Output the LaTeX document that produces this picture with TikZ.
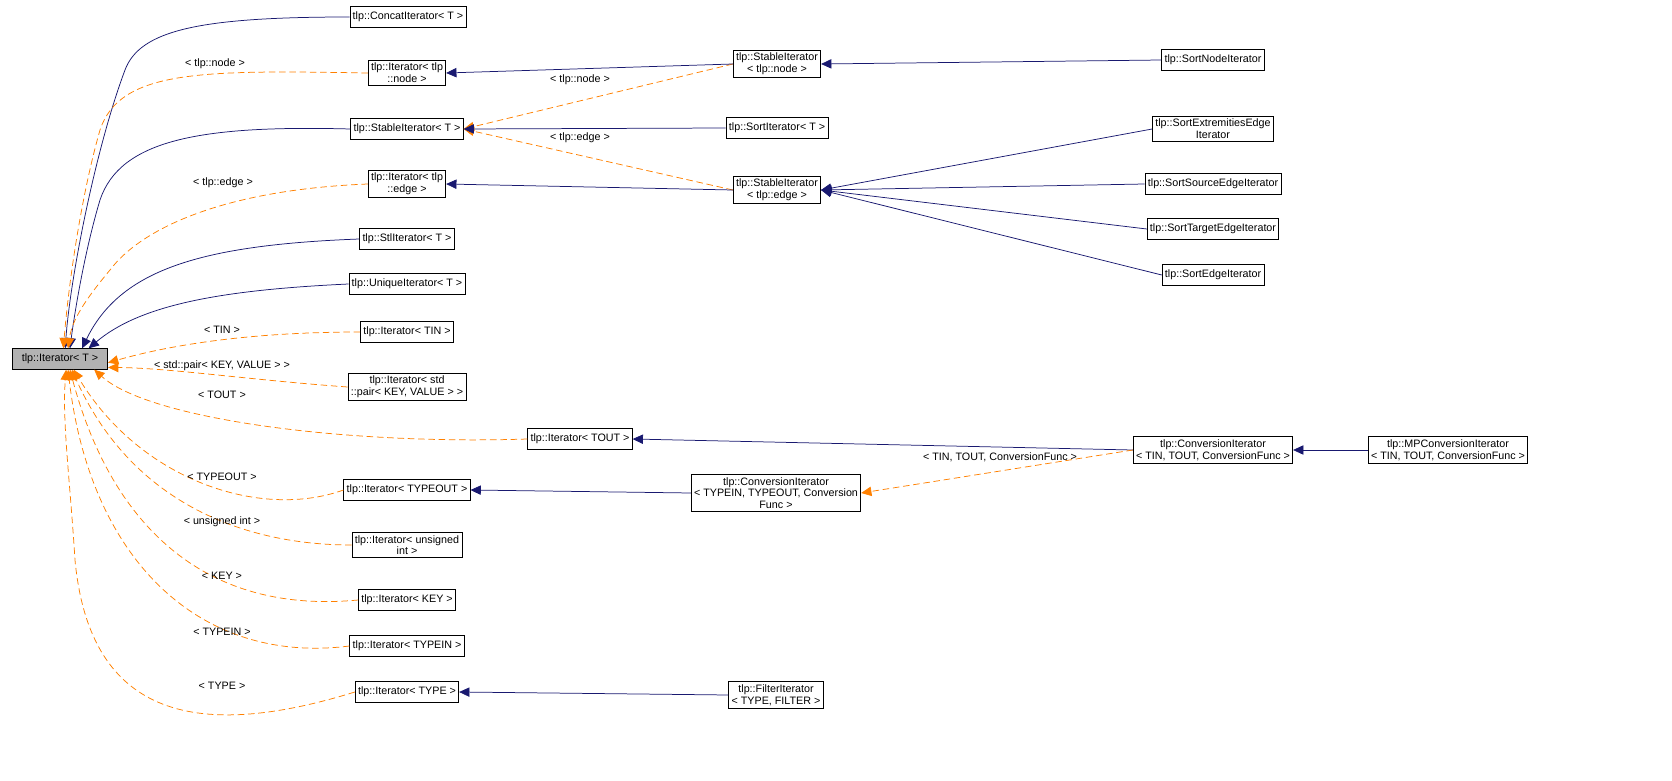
\documentclass[tikz,border=0pt]{standalone}
\usepackage{fontspec}
\setmainfont{Liberation Sans}
\usetikzlibrary{arrows.meta}
\begin{document}
\begin{tikzpicture}[x=1.07pt,y=-1.07pt,
  every node/.style={font=\fontsize{11.5}{12.5}\selectfont},
  box/.style={draw,thick,fill=white,align=center,inner sep=3pt,minimum height=22pt},
  inh/.style={draw={rgb,255:red,25;green,25;blue,112},thick,-{Triangle[length=11pt,width=10pt]}},
  tpl/.style={draw=orange,thick,dashed,dash pattern=on 7pt off 4pt,-{Triangle[length=11pt,width=10pt,fill=orange]}},
  lab/.style={inner sep=1pt}]
\useasboundingbox (0,0) rectangle (1672,781);
\node[box,fill=black!30,minimum width=102pt] (base) at (60,359) {tlp::Iterator< T >};
\node[box] (concat) at (408,17) {tlp::ConcatIterator< T >};
\node[box] (itnode) at (407,73) {tlp::Iterator< tlp\\::node >};
\node[box] (stT) at (407,129) {tlp::StableIterator< T >};
\node[box] (itedge) at (407,184) {tlp::Iterator< tlp\\::edge >};
\node[box] (stl) at (407,239) {tlp::StlIterator< T >};
\node[box] (uniq) at (407,284) {tlp::UniqueIterator< T >};
\node[box] (tin) at (407,332) {tlp::Iterator< TIN >};
\node[box] (pair) at (407,387) {tlp::Iterator< std\\::pair< KEY, VALUE > >};
\node[box] (tout) at (580,439) {tlp::Iterator< TOUT >};
\node[box] (typeout) at (407,490) {tlp::Iterator< TYPEOUT >};
\node[box] (uint) at (407,545) {tlp::Iterator< unsigned\\int >};
\node[box] (key) at (407,600) {tlp::Iterator< KEY >};
\node[box] (typein) at (407,646) {tlp::Iterator< TYPEIN >};
\node[box] (type) at (407,692) {tlp::Iterator< TYPE >};
\node[box] (stnode) at (777,64) {tlp::StableIterator\\< tlp::node >};
\node[box] (sortT) at (777,128) {tlp::SortIterator< T >};
\node[box] (stedge) at (777,190) {tlp::StableIterator\\< tlp::edge >};
\node[box] (sortnode) at (1213,60) {tlp::SortNodeIterator};
\node[box] (sortext) at (1213,129) {tlp::SortExtremitiesEdge\\Iterator};
\node[box] (sortsrc) at (1213,184) {tlp::SortSourceEdgeIterator};
\node[box] (sorttgt) at (1213,229) {tlp::SortTargetEdgeIterator};
\node[box] (sortedge) at (1213,275) {tlp::SortEdgeIterator};
\node[box] (conv) at (1213,450) {tlp::ConversionIterator\\< TIN, TOUT, ConversionFunc >};
\node[box] (mpconv) at (1448,450) {tlp::MPConversionIterator\\< TIN, TOUT, ConversionFunc >};
\node[box] (conv2) at (776,493) {tlp::ConversionIterator\\< TYPEIN, TYPEOUT, Conversion\\Func >};
\node[box] (filter) at (776,695) {tlp::FilterIterator\\< TYPE, FILTER >};

% navy to base
\draw[inh] (concat.west) .. controls (200,17) and (140,30) .. (125,70) .. controls (95,150) and (70,280) .. ([xshift=57pt]base.north west);
\draw[inh] (stT.west) .. controls (200,125) and (120,140) .. (100,200) .. controls (85,250) and (75,310) .. ([xshift=62pt]base.north west);
\draw[inh] (stl.west) .. controls (200,245) and (120,270) .. ([xshift=75pt]base.north west);
\draw[inh] (uniq.west) .. controls (220,290) and (140,305) .. ([xshift=82pt]base.north west);
% orange to base top
\draw[tpl] (itnode.west) .. controls (200,70) and (120,70) .. (100,130) .. controls (80,200) and (68,290) .. ([xshift=55pt]base.north west);
\draw[tpl] (itedge.west) .. controls (220,190) and (140,230) .. (110,270) .. controls (85,300) and (72,320) .. ([xshift=60pt]base.north west);
\draw[tpl] (tin.west) .. controls (250,332) and (170,345) .. ([yshift=-4pt]base.east);
\draw[tpl] (pair.west) .. controls (250,380) and (170,368) .. ([yshift=-9pt]base.east);
\draw[tpl] (tout.west) .. controls (350,445) and (150,420) .. ([xshift=88pt]base.south west);
% orange to base bottom
\draw[tpl] (typeout.west) .. controls (260,520) and (140,480) .. ([xshift=66pt]base.south west);
\draw[tpl] (uint.west) .. controls (240,545) and (130,500) .. ([xshift=64pt]base.south west);
\draw[tpl] (key.west) .. controls (200,615) and (110,520) .. ([xshift=62pt]base.south west);
\draw[tpl] (typein.west) .. controls (200,665) and (90,560) .. ([xshift=60pt]base.south west);
\draw[tpl] (type.west) .. controls (200,740) and (90,720) .. (75,560) .. controls (70,480) and (62,420) .. ([xshift=58pt]base.south west);
% others
\draw[tpl] (stnode.west) -- (stT.east);
\draw[tpl] (stedge.west) -- (stT.east);
\draw[inh] (stnode.west) -- (itnode.east);
\draw[inh] (sortT.west) -- (stT.east);
\draw[inh] (stedge.west) -- (itedge.east);
\draw[inh] (sortnode.west) -- (stnode.east);
\draw[inh] (sortext.west) -- (stedge.east);
\draw[inh] (sortsrc.west) -- (stedge.east);
\draw[inh] (sorttgt.west) -- (stedge.east);
\draw[inh] (sortedge.west) -- (stedge.east);
\draw[inh] (conv.west) -- (tout.east);
\draw[inh] (mpconv.west) -- (conv.east);
\draw[inh] (conv2.west) -- (typeout.east);
\draw[inh] (filter.west) -- (type.east);
\draw[tpl] (conv.west) -- (conv2.east);
% labels
\node[lab] (l1) at (215,64) {< tlp::node >};
\node[lab] (l2) at (580,80) {< tlp::node >};
\node[lab] (l3) at (580,138) {< tlp::edge >};
\node[lab] (l4) at (223,183) {< tlp::edge >};
\node[lab] (l5) at (222,330) {< TIN >};
\node[lab] (l6) at (222,366) {< std::pair< KEY, VALUE > >};
\node[lab] (l7) at (222,395) {< TOUT >};
\node[lab] (l8) at (222,477) {< TYPEOUT >};
\node[lab] (l9) at (222,522) {< unsigned int >};
\node[lab] (l10) at (222,576) {< KEY >};
\node[lab] (l11) at (222,632) {< TYPEIN >};
\node[lab] (l12) at (222,686) {< TYPE >};
\node[lab] (l13) at (1000,457) {< TIN, TOUT, ConversionFunc >};
\end{tikzpicture}
\end{document}
